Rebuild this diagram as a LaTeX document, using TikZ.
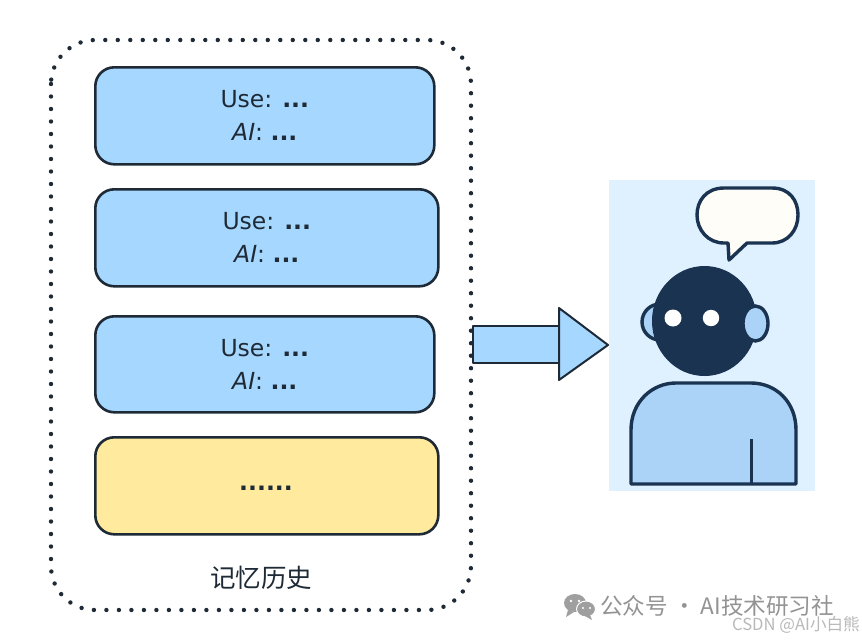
\documentclass[tikz,border=0pt]{standalone}
\usepackage{fontspec}
\setmainfont{DejaVu Sans}
\newfontfamily\cjk{Noto Sans CJK SC}
\definecolor{boxblue}{HTML}{A6D7FF}
\definecolor{boxyellow}{HTML}{FFEA9D}
\definecolor{inkdark}{HTML}{1E2A36}
\definecolor{navy}{HTML}{1A3350}
\definecolor{panelblue}{HTML}{DFF1FF}
\definecolor{bodyblue}{HTML}{ABD2F7}
\definecolor{bubblefill}{HTML}{FFFDF7}
\tikzset{
  x=1pt,y=-1pt,
  membox/.style={draw=inkdark,line width=2.6pt,rounded corners=19pt,anchor=north west,inner sep=0pt,
    align=center,font=\fontsize{23.5}{33}\selectfont,text=inkdark},
  robot/.style={draw=navy,line width=3.4pt},
}
\begin{document}
\begin{tikzpicture}
\useasboundingbox (0,0) rectangle (862,640);
\fill[white] (0,0) rectangle (862,640);
% container
\draw[inkdark,line width=4.4pt,line cap=round,dash pattern=on 0pt off 12.5pt,rounded corners=44pt]
  (51,40) rectangle (471,610);
% memory boxes
\node[membox,fill=boxblue,minimum width=339pt,minimum height=97pt] (m1) at (94,66) {Use: \textbf{...}\\\textit{AI}: \textbf{...}};
\node[membox,fill=boxblue,minimum width=343pt,minimum height=97pt] (m2) at (94,188) {Use: \textbf{...}\\\textit{AI}: \textbf{...}};
\node[membox,fill=boxblue,minimum width=339pt,minimum height=96pt] (m3) at (94,315) {Use: \textbf{...}\\\textit{AI}: \textbf{...}};
\node[membox,fill=boxyellow,minimum width=343pt,minimum height=97pt] (m4) at (94,436) {};
\node[font=\fontsize{23.5}{26}\selectfont\bfseries,text=inkdark,inner sep=0pt] (dots) at (266,488) {......};
\node[font=\cjk\fontsize{25.5}{28}\selectfont,text=inkdark] (cap) at (261,578) {记忆历史};
% panel
\fill[panelblue] (609,180) rectangle (815,491);
% speech bubble
\draw[robot,fill=bubblefill,line join=round]
  (724,188) -- (772,188) .. controls (790,188) and (798,201) .. (798,215)
  .. controls (798,230) and (788,243) .. (772,243) -- (747,243) -- (729,260) -- (728,243) -- (724,243)
  .. controls (708,243) and (697,230) .. (697,215) .. controls (697,201) and (706,188) .. (724,188) -- cycle;
% ears and head
\draw[robot,fill=bodyblue] (660,322) ellipse (18 and 18);
\fill[navy] (704.5,321) ellipse (52.5 and 55);
\draw[robot,fill=bodyblue] (755.5,323.5) ellipse (12.5 and 17.5);
\fill[white] (673,318) circle (8.5);
\fill[white] (711,318) circle (8.2);
% body
\draw[robot,fill=bodyblue,line join=round]
  (631,480) -- (631,430) .. controls (631,402) and (652,383) .. (676,383) -- (751,383)
  .. controls (776,383) and (796,402) .. (796,430) -- (796,480) -- (796,484) -- (792,484) -- (635,484) -- (631,484) -- cycle;
\draw[navy,line width=3pt] (751,439) -- (751,484);
% arrow
\draw[inkdark,line width=2pt,fill=boxblue,line join=round] (473,326) -- (559,326) -- (559,363) -- (473,363) -- cycle;
\draw[inkdark,line width=2pt,fill=boxblue,line join=round] (559,308) -- (608,345) -- (559,380) -- cycle;
% watermark
\fill[gray!75] (575,603) ellipse (11 and 9);
\fill[gray!75] (568,610) -- (566,617) -- (574,612) -- cycle;
\draw[white,line width=1pt,fill=gray!75] (586,609) ellipse (9.5 and 8);
\fill[gray!75] (590,615) -- (592,620) -- (585,616) -- cycle;
\fill[white] (571,601) circle (1.4) (579,601) circle (1.4) (583,608) circle (1.1) (590,608) circle (1.1);
\node[anchor=west,inner sep=0pt,text=gray!85,font=\cjk\fontsize{22.6}{26}\selectfont] (wm) at (600,606) {公众号 · AI技术研习社};
\node[anchor=east,inner sep=0pt,text=gray!55,font=\cjk\fontsize{16.6}{18}\selectfont] (wm2) at (860,625) {CSDN @AI小白熊};
\end{tikzpicture}
\end{document}
